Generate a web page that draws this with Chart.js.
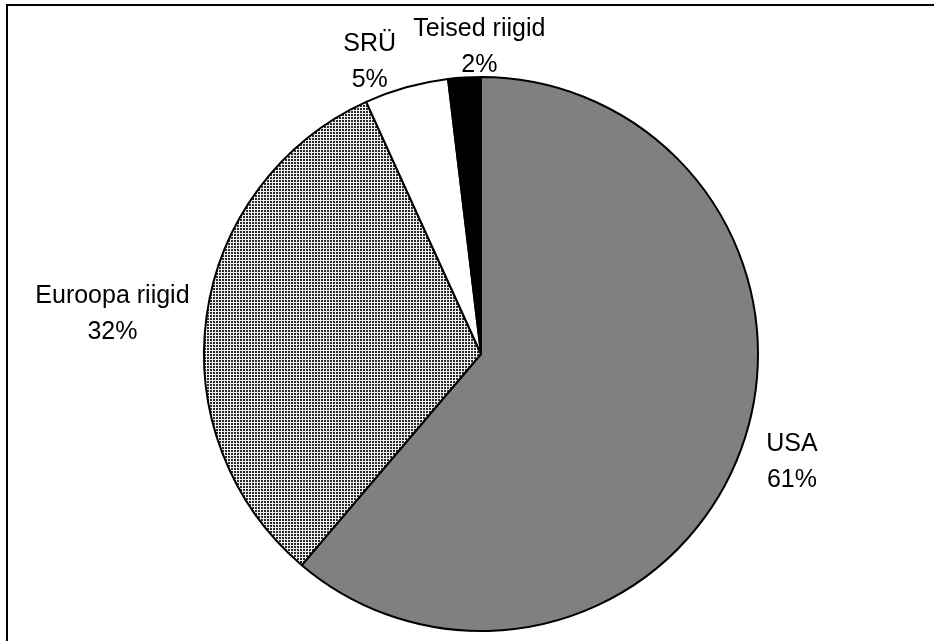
<!DOCTYPE html>
<html>
<head>
<meta charset="utf-8">
<title>Pie</title>
<script src="https://cdn.jsdelivr.net/npm/chart.js@4.4.1/dist/chart.umd.min.js"></script>
<style>
  html, body { margin: 0; padding: 0; background: #fff; }
  #wrap { position: relative; width: 934px; height: 641px; }
</style>
</head>
<body>
<div id="wrap"><canvas id="pieChart"></canvas></div>
<script>
const labels = ["USA", "Euroopa riigid", "SRÜ", "Teised riigid"];
const shares = [61.2, 32.0, 4.9, 1.9];
const percentText = ["61%", "32%", "5%", "2%"];

// fine checker fill like the old Excel pattern
function makePattern() {
  let c = document.createElement("canvas");
  c.width = 3;
  c.height = 3;
  let p = c.getContext("2d");
  p.fillStyle = "#f0f0f0";
  p.fillRect(0, 0, 3, 3);
  p.fillStyle = "#2a2a2a";
  p.fillRect(0, 0, 2, 2);
  return p.createPattern(c, "repeat");
}

const frame = {
  id: "frame",
  afterDraw(chart) {
    const g = chart.ctx;
    g.save();
    g.fillStyle = "#000";
    g.fillRect(6, 4, 930, 2);
    g.fillRect(6, 4, 2, 640);
    g.restore();
  },
};

// outside labels, two lines each, placed from the arc geometry
const outLabels = {
  id: "outLabels",
  afterDraw(chart, args, opts) {
    const g = chart.ctx;
    const meta = chart.getDatasetMeta(0);
    g.save();
    g.font = "25px 'Liberation Sans', Arial, sans-serif";
    g.fillStyle = "#000";
    g.textAlign = "center";
    g.textBaseline = "middle";
    meta.data.forEach((arc, i) => {
      const mid = (arc.startAngle + arc.endAngle) / 2;
      const dx = Math.cos(mid);
      const dy = Math.sin(mid);
      const r = arc.outerRadius + opts.gap;
      const w = Math.max(g.measureText(labels[i]).width, g.measureText(percentText[i]).width);
      const nudge = opts.nudge[i] || [0, 0];
      const x = arc.x + dx * r + dx * w / 2 + nudge[0];
      const y = arc.y + dy * r + dy * 10 + nudge[1];
      g.fillText(labels[i], x, y - opts.lineGap / 2);
      g.fillText(percentText[i], x, y + opts.lineGap / 2);
    });
    g.restore();
  },
};

const ctx = document.getElementById("pieChart").getContext("2d");

new Chart(ctx, {
  type: "pie",
  data: {
    labels: labels,
    datasets: [
      {
        data: shares,
        backgroundColor: ["#808080", makePattern(), "#ffffff", "#000000"],
        borderColor: "#000000",
        borderWidth: 2,
      },
    ],
  },
  options: {
    responsive: true,
    maintainAspectRatio: false,
    animation: false,
    layout: {
      padding: { left: 203, right: 175, top: 76, bottom: 9 },
    },
    plugins: {
      legend: { display: false },
      tooltip: { enabled: false },
      outLabels: {
        gap: 20,
        lineGap: 36,
        nudge: [[8, 2], [2, 2], [-24, 4], [20, 0]],
      },
    },
  },
  plugins: [frame, outLabels],
});
</script>
</body>
</html>
